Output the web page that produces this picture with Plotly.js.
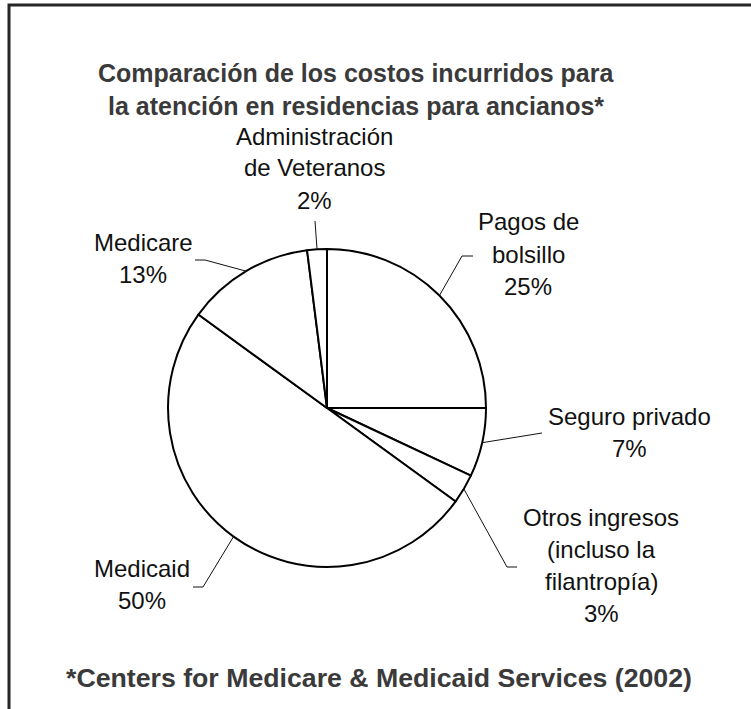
<!DOCTYPE html>
<html>
<head>
<meta charset="utf-8">
<script src="https://cdn.plot.ly/plotly-3.0.1.min.js"></script>
<style>
  html, body { margin: 0; padding: 0; background: #fff; }
  #chart { width: 751px; height: 709px; }
</style>
</head>
<body>
<div id="chart"></div>
<script>
// ---- data ----
const categories = ['Pagos de bolsillo', 'Seguro privado', 'Otros ingresos (incluso la filantropía)', 'Medicaid', 'Medicare', 'Administración de Veteranos'];
const labelLines = [
  ['Pagos de', 'bolsillo'],
  ['Seguro privado'],
  ['Otros ingresos', '(incluso la', 'filantropía)'],
  ['Medicaid'],
  ['Medicare'],
  ['Administración', 'de Veteranos']
];
const shares = [25, 7, 3, 50, 13, 2];
const titleLines = ['Comparación de los costos incurridos para', 'la atención en residencias para ancianos*'];
const footnote = '*Centers for Medicare & Medicaid Services (2002)';

// ---- layout config (pixels) ----
const W = 751, H = 709;
const CX = 327, CY = 408, R = 159;
const labelPos = [ // center x, y of first line
  {x: 528, y: 222}, {x: 629, y: 416}, {x: 601, y: 517},
  {x: 142, y: 568}, {x: 143, y: 242}, {x: 314, y: 136}
];
const elbows = [
  [[462, 256], [473, 256]],
  [[542, 433]],
  [[507, 567], [517, 567]],
  [[203, 587], [193, 587]],
  [[205, 260], [195, 260]],
  [[315, 221]]
];
const LINE = 32;
const px = x => x / W;
const py = y => 1 - y / H;
const labelFont = {family: 'Arial, "Liberation Sans", sans-serif', size: 24, color: '#111'};
const boldFont = {family: 'Arial, "Liberation Sans", sans-serif', size: 25, color: '#3a3a3a'};

const annotations = [];
const shapes = [];

// title
titleLines.forEach((t, i) => {
  annotations.push({text: '<b>' + t + '</b>', xref: 'paper', yref: 'paper', x: px(356), y: py(73 + i * 33),
    xanchor: 'center', yanchor: 'middle', showarrow: false, font: boldFont});
});
// footnote
annotations.push({text: '<b>' + footnote + '</b>', xref: 'paper', yref: 'paper', x: px(379), y: py(678),
  xanchor: 'center', yanchor: 'middle', showarrow: false, font: Object.assign({}, boldFont, {size: 26.7})});

// slice labels + leader lines
const total = shares.reduce((a, b) => a + b, 0);
let cum = 0;
shares.forEach((v, i) => {
  const mid = (cum + v / 2) / total * 2 * Math.PI;
  cum += v;
  const sx = CX + R * Math.sin(mid), sy = CY - R * Math.cos(mid);
  let d = 'M' + px(sx) + ',' + py(sy);
  elbows[i].forEach(p => { d += ' L' + px(p[0]) + ',' + py(p[1]); });
  shapes.push({type: 'path', xref: 'paper', yref: 'paper', path: d, line: {color: '#111', width: 1}});
  const lines = labelLines[i].concat([v + '%']);
  lines.forEach((t, j) => {
    annotations.push({text: t, xref: 'paper', yref: 'paper', x: px(labelPos[i].x), y: py(labelPos[i].y + j * LINE),
      xanchor: 'center', yanchor: 'middle', showarrow: false, font: labelFont});
  });
});

// frame (left + top)
shapes.push({type: 'path', xref: 'paper', yref: 'paper',
  path: 'M' + px(9) + ',' + py(H + 2) + ' L' + px(9) + ',' + py(5) + ' L' + px(W + 2) + ',' + py(5),
  line: {color: '#262626', width: 3}});

const trace = {
  type: 'pie',
  labels: categories,
  values: shares,
  sort: false,
  direction: 'clockwise',
  rotation: 0,
  textinfo: 'none',
  hoverinfo: 'label+percent',
  marker: {colors: categories.map(() => '#ffffff'), line: {color: '#000', width: 2}},
  domain: {x: [px(CX - R), px(CX + R)], y: [py(CY + R), py(CY - R)]},
  showlegend: false
};

Plotly.newPlot('chart', [trace], {
  width: W, height: H,
  margin: {l: 0, r: 0, t: 0, b: 0},
  paper_bgcolor: '#fff',
  showlegend: false,
  annotations: annotations,
  shapes: shapes
}, {displayModeBar: false, staticPlot: true});
</script>
</body>
</html>
